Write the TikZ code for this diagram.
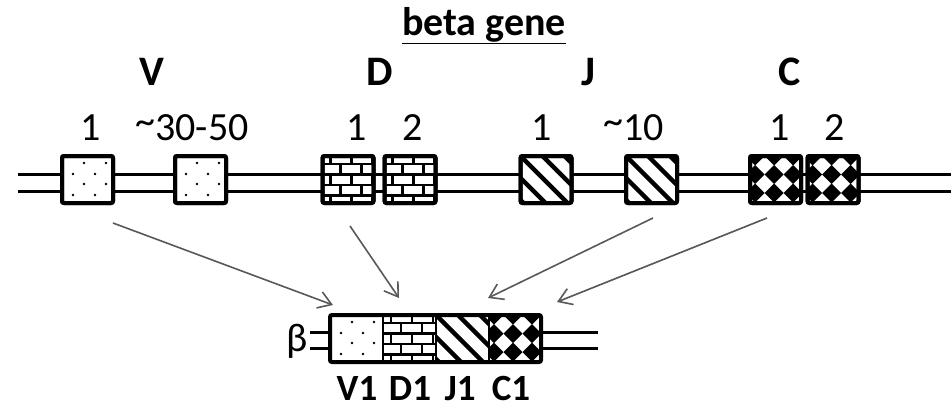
\documentclass[tikz,border=0pt]{standalone}
\usepackage{fontspec}
\setmainfont{Carlito}
\usetikzlibrary{arrows.meta}

\newcommand\patdots{%
  \foreach \px/\py in {0/7,22/7,44/7,11/18,33/18,55/18,0/28,22/28,44/28,11/39,33/39,55/39}
   \fill[black] (\px,\py) circle[radius=1.3pt];}
\newcommand\patbricks{%
 \begin{scope}[line width=2.5pt]
  \foreach \yy in {8,18.5,29,39.5} \draw (-5,\yy) -- (60,\yy);
  \foreach \xx in {8,29,50} \draw (\xx,-3) -- (\xx,8);
  \foreach \xx in {18,39} \draw (\xx,8) -- (\xx,18.5);
  \foreach \xx in {8,29,50} \draw (\xx,18.5) -- (\xx,29);
  \foreach \xx in {18,39} \draw (\xx,29) -- (\xx,39.5);
  \foreach \xx in {8,29,50} \draw (\xx,39.5) -- (\xx,52);
 \end{scope}}
\newcommand\patstripes{%
 \begin{scope}[line width=4.5pt]
  \foreach \a in {-66,-44,-22,0,22,44} \draw ({\a-6},-6) -- ({\a+62},62);
 \end{scope}}
\newcommand\patdiam{%
  \foreach \i in {-1,0,1,2,3} \foreach \j in {0,1,2,3}
   \fill ({5+19*\i},{18.5*\j}) ++(-9.5,0) -- ++(9.5,-9.5) -- ++(9.5,9.5) -- ++(-9.5,9.5) -- cycle;}

% fill node #1 with pattern #2, then redraw its border with width #3
\newcommand\fillpat[3]{%
 \begin{scope}
  \clip ([shift={(1,1)}]#1.north west) rectangle ([shift={(-1,-1)}]#1.south east);
  \begin{scope}[shift={(#1.north west)}] #2 \end{scope}
 \end{scope}
 \draw[line width=#3, rounded corners=2pt] (#1.north west) rectangle (#1.south east);}

\tikzset{
 exon/.style={draw, line width=4pt, rounded corners=2pt, fill=white, outer sep=0pt,
   minimum width=51pt, minimum height=47pt, inner sep=0pt},
 seg/.style={draw, line width=1.2pt, fill=white, outer sep=0pt,
   minimum width=53pt, minimum height=47pt, inner sep=0pt},
 strand/.style={line width=3pt},
 seglab/.style={font=\fontsize{42}{50}\selectfont\bfseries, anchor=base, inner sep=0pt},
 numlab/.style={font=\fontsize{40}{48}\selectfont, anchor=base, inner sep=0pt},
 botlab/.style={font=\fontsize{37}{44}\selectfont\bfseries, anchor=base, inner sep=0pt},
 joinarrow/.style={draw={rgb,255:red,89;green,89;blue,89}, line width=1.6pt,
   -{Straight Barb[length=13pt,width=17pt]}},
}
\newcommand\tld{\raisebox{6pt}{\textasciitilde}}

\begin{document}
\begin{tikzpicture}[x=1pt,y=-1pt]
\useasboundingbox[fill=white] (0,0) rectangle (951,408);

% title and group labels
\node[font=\fontsize{40}{48}\selectfont\bfseries, anchor=base, inner sep=0pt] (title) at (484,35) {\underline{beta gene}};
\node[seglab] (labV) at (152,85) {V};
\node[seglab] (labD) at (380,85) {D};
\node[seglab] (labJ) at (588,85) {J};
\node[seglab] (labC) at (790,85) {C};

\node[numlab] (nV1) at (91,140) {1};
\node[numlab] (nV2) at (192,140) {\tld30-50};
\node[numlab] (nD1) at (357,140) {1};
\node[numlab] (nD2) at (413,140) {2};
\node[numlab] (nJ1) at (542,140) {1};
\node[numlab] (nJ2) at (634,140) {\tld10};
\node[numlab] (nC1) at (780,140) {1};
\node[numlab] (nC2) at (835,140) {2};

% top strand
\coordinate (sA1) at (18,174);
\coordinate (sB1) at (951,174);
\coordinate (sA2) at (18,191);
\coordinate (sB2) at (951,191);
\draw[strand] (sA1) -- (sB1);
\draw[strand] (sA2) -- (sB2);

\node[exon] (V1) at (87.5,179.5) {};
\node[exon] (V2) at (200.5,179.5) {};
\node[exon] (D1) at (348,179.5) {};
\node[exon] (D2) at (410,179.5) {};
\node[exon] (J1) at (546,179.5) {};
\node[exon] (J2) at (651.5,179.5) {};
\node[exon] (C1) at (775.5,179.5) {};
\node[exon] (C2) at (833,179.5) {};
\fillpat{V1}{\patdots}{4pt}
\fillpat{V2}{\patdots}{4pt}
\fillpat{D1}{\patbricks}{4pt}
\fillpat{D2}{\patbricks}{4pt}
\fillpat{J1}{\patstripes}{4pt}
\fillpat{J2}{\patstripes}{4pt}
\fillpat{C1}{\patdiam}{4pt}
\fillpat{C2}{\patdiam}{4pt}

% bottom rearranged gene
\coordinate (bL1) at (310,332);
\coordinate (bR1) at (598,332);
\coordinate (bL2) at (310,348);
\coordinate (bR2) at (598,348);
\draw[strand] (bL1) -- (bR1);
\draw[strand] (bL2) -- (bR2);

\node[seg] (bV) at (356.5,338.5) {};
\node[seg] (bD) at (409.5,338.5) {};
\node[seg] (bJ) at (462.5,338.5) {};
\node[seg, minimum width=52pt] (bC) at (515,338.5) {};
\fillpat{bV}{\patdots}{1.2pt}
\fillpat{bD}{\patbricks}{1.2pt}
\fillpat{bJ}{\patstripes}{1.2pt}
\fillpat{bC}{\patdiam}{1.2pt}
\draw[line width=4pt, rounded corners=2pt] (bV.north west) rectangle (bC.south east);

\node[font=\fontsize{40}{48}\selectfont, anchor=base, inner sep=0pt] (beta) at (297,351) {β};

\node[botlab] (lV) at (357,400) {V1};
\node[botlab] (lD) at (410,400) {D1};
\node[botlab] (lJ) at (460,400) {J1};
\node[botlab] (lC) at (511,400) {C1};

% arrows
\coordinate (a1s) at (113,223); \coordinate (a1e) at (333,305);
\coordinate (a2s) at (350,226); \coordinate (a2e) at (399,298);
\coordinate (a3s) at (653,218); \coordinate (a3e) at (488,298);
\coordinate (a4s) at (767,218); \coordinate (a4e) at (557,302);
\draw[joinarrow] (a1s) -- (a1e);
\draw[joinarrow] (a2s) -- (a2e);
\draw[joinarrow] (a3s) -- (a3e);
\draw[joinarrow] (a4s) -- (a4e);
\end{tikzpicture}
\end{document}
